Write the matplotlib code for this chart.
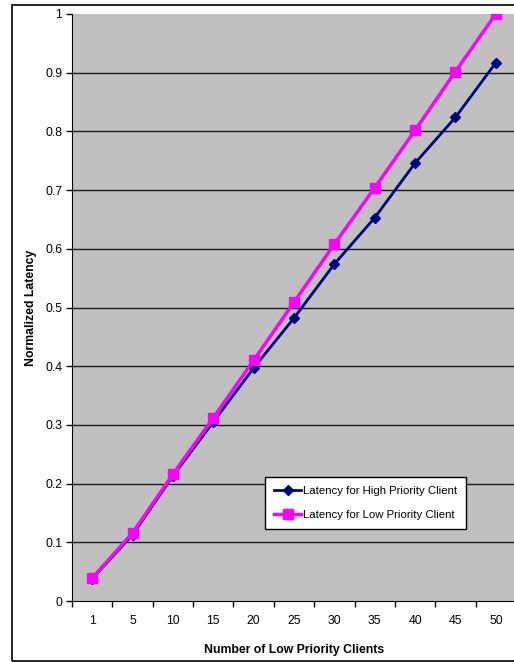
import matplotlib.pyplot as plt
from matplotlib.patches import Rectangle

plt.rcParams['font.family'] = ['Liberation Sans', 'DejaVu Sans']

clients = ['1', '5', '10', '15', '20', '25', '30', '35', '40', '45', '50']
high_latency = [0.038, 0.113, 0.213, 0.305, 0.397, 0.482, 0.574, 0.653, 0.746, 0.824, 0.917]
low_latency = [0.039, 0.116, 0.216, 0.312, 0.410, 0.509, 0.608, 0.704, 0.802, 0.902, 1.0]

W, H = 514, 662
fig = plt.figure(figsize=(W / 100, H / 100), dpi=100)
fig.patch.set_facecolor('white')

# chart frame around everything
fig.patches.append(Rectangle((12 / W, 1 / H), 1.0, (661 - 5) / H,
                             transform=fig.transFigure, fill=False,
                             edgecolor='black', linewidth=1.2, zorder=0))

left, right, top, bottom = 72, 516, 14, 601
ax = fig.add_axes([left / W, 1 - bottom / H, (right - left) / W, (bottom - top) / H])
ax.set_facecolor('#c0c0c0')

x = list(range(len(clients)))
ax.plot(x, high_latency, color='#000080', linewidth=2, marker='D', markersize=5,
        label='Latency for High Priority Client', zorder=3)
ax.plot(x, low_latency, color='#ff00ff', linewidth=2.5, marker='s', markersize=7.3,
        label='Latency for Low Priority Client', zorder=4)

ax.set_xlim(-0.5, len(clients) - 0.5)
ax.set_ylim(0, 1)
ax.set_yticks([i / 10 for i in range(11)])
ax.set_yticklabels(['0', '0.1', '0.2', '0.3', '0.4', '0.5', '0.6', '0.7', '0.8', '0.9', '1'])
ax.set_xticks(x)
ax.set_xticklabels(clients)
ax.set_xticks([i - 0.5 for i in range(len(clients) + 1)], minor=True)
ax.tick_params(axis='x', which='major', length=0, pad=10, labelsize=8.8)
ax.tick_params(axis='x', which='minor', length=4, direction='out', width=1)
ax.tick_params(axis='y', length=4, direction='out', width=1, labelsize=8.8, pad=3)

for yv in [i / 10 for i in range(1, 10)]:
    ax.axhline(yv, color='#1a1a1a', linewidth=1, zorder=1)

for side in ['top', 'right']:
    ax.spines[side].set_visible(False)
ax.spines['left'].set_color('black')
ax.spines['bottom'].set_color('black')

ax.set_xlabel('Number of Low Priority Clients', fontsize=8.8, fontweight='bold', labelpad=12)
ax.set_ylabel('Normalized Latency', fontsize=8.8, fontweight='bold', labelpad=6)

leg = ax.legend(loc='lower left', bbox_to_anchor=((265 - left) / (right - left), (bottom - 529) / (bottom - top)),
                fontsize=8.2, frameon=True, fancybox=False, framealpha=1,
                edgecolor='black', borderpad=0.8, handlelength=2.4, handletextpad=0.1,
                labelspacing=1.25, borderaxespad=0)
leg.get_frame().set_linewidth(1)

fig.savefig('out.png', dpi=100)
